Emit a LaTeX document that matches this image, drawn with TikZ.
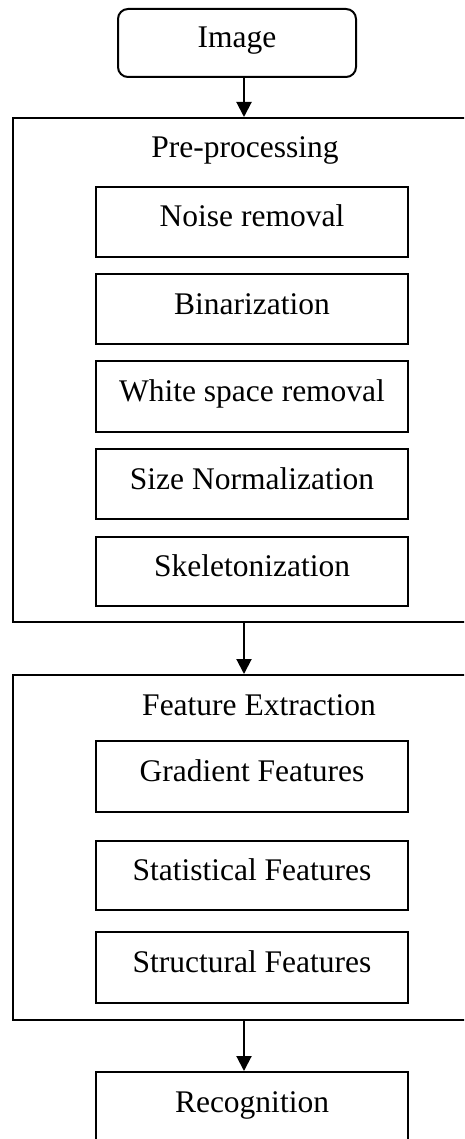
\documentclass[tikz,border=0pt]{standalone}
\usepackage{fontspec}
\setmainfont{Liberation Serif}
\usetikzlibrary{arrows.meta}
\begin{document}
\begin{tikzpicture}[x=1pt,y=-1pt,
  lbl/.style={font=\fontsize{31.5}{36}\selectfont},
  stepbox/.style={lbl, draw, line width=2pt, minimum width=312pt, minimum height=70pt,
    inner sep=0pt, text height=22pt, text depth=12pt},
  stage/.style={draw, line width=2pt, minimum width=462pt, inner sep=0pt},
  title/.style={lbl, anchor=base, inner sep=0pt},
  arr/.style={line width=2pt, -{Triangle[length=15pt,width=15pt]}}]
\clip (0,0) rectangle (464,1139);
\useasboundingbox (0,0) rectangle (464,1139);

% input
\node[stepbox, rounded corners=10pt, minimum width=238pt, minimum height=68pt] (image) at (237,43) {Image};

% pre-processing stage
\node[stage, minimum height=504pt] (pre) at (244,370) {};
\node[title] (pretitle) at (245,158) {Pre-processing};
\node[stepbox] (noise) at (252,222) {Noise removal};
\node[stepbox] (binar) at (252,309) {Binarization};
\node[stepbox, minimum height=71pt] (white) at (252,396.5) {White space removal};
\node[stepbox] (sizen) at (252,484) {Size Normalization};
\node[stepbox, minimum height=69pt] (skel) at (252,571.5) {Skeletonization};

% feature extraction stage
\node[stage, minimum height=345pt] (fe) at (244,847.5) {};
\node[title] (fetitle) at (259,715) {Feature Extraction};
\node[stepbox, minimum height=71pt] (grad) at (252,776.5) {Gradient Features};
\node[stepbox, minimum height=69pt] (stat) at (252,875.5) {Statistical Features};
\node[stepbox, minimum height=71pt] (struct) at (252,967.5) {Structural Features};

% output
\node[stepbox] (rec) at (252,1107) {Recognition};

% flow
\coordinate (axis) at (244,0);
\draw[arr] (image.south -| axis) -- (pre.north);
\draw[arr] (pre.south) -- (fe.north);
\draw[arr] (fe.south) -- (rec.north -| fe.south);
\end{tikzpicture}
\end{document}
